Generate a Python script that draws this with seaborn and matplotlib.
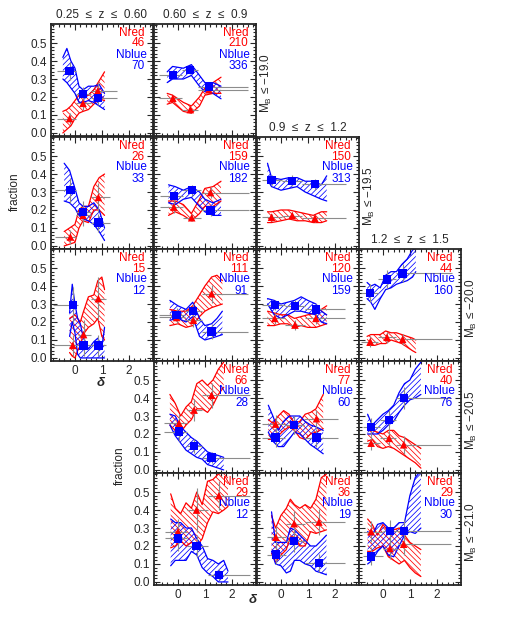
import matplotlib
matplotlib.use("Agg")
import matplotlib.pyplot as plt
from matplotlib.ticker import MultipleLocator, FixedLocator, FormatStrFormatter
import numpy as np
import seaborn as sns

sns.set_style("ticks")
plt.rcParams['font.family'] = ['Liberation Sans', 'DejaVu Sans']
plt.rcParams['hatch.linewidth'] = 0.55

# panel (row, col) in the staircase grid
grid_pos = [(0, 0), (0, 1), (1, 0), (1, 1), (1, 2), (2, 0), (2, 1), (2, 2), (2, 3),
            (3, 1), (3, 2), (3, 3), (4, 1), (4, 2), (4, 3)]

n_red = [46, 210, 26, 159, 150, 15, 111, 120, 44, 66, 77, 40, 29, 36, 29]
n_blue = [70, 336, 33, 182, 313, 12, 91, 159, 160, 28, 60, 76, 12, 19, 30]

z_titles = {(0, 0): "0.25  \u2264  z  \u2264  0.60", (0, 1): "0.60  \u2264  z  \u2264  0.9",
            (1, 2): "0.9  \u2264  z  \u2264  1.2", (2, 3): "1.2  \u2264  z  \u2264  1.5"}
mag_labels = {(0, 1): "\u221219.0", (1, 2): "\u221219.5", (2, 3): "\u221220.0",
              (3, 3): "\u221220.5", (4, 3): "\u221221.0"}
y_ticks = [0.0, 0.1, 0.2, 0.3, 0.4, 0.5]

# binned points (delta, fraction)
pt_x = [[-0.2, 0.3, 0.85], [-0.19, 0.46, 1.15], [-0.17, 0.3, 0.87], [-0.15, 0.51, 1.21],
        [-0.35, 0.42, 1.26], [-0.08, 0.32, 0.87], [-0.05, 0.57, 1.25], [-0.23, 0.52, 1.3],
        [-0.47, 0.15, 0.73], [0.04, 0.6, 1.25], [-0.2, 0.48, 1.32], [-0.44, 0.23, 0.77],
        [0.0, 0.69, 1.52], [-0.19, 0.49, 1.41], [-0.44, 0.26, 0.77]]
red_y = [[0.08, 0.165, 0.235], [0.193, 0.13, 0.24], [0.05, 0.17, 0.27], [0.216, 0.157, 0.297],
         [0.16, 0.169, 0.154], [0.07, 0.13, 0.33], [0.225, 0.21, 0.357], [0.22, 0.183, 0.22],
         [0.091, 0.115, 0.104], [0.26, 0.333, 0.415], [0.255, 0.25, 0.285], [0.149, 0.176, 0.14],
         [0.28, 0.4, 0.48], [0.249, 0.324, 0.333], [0.28, 0.186, 0.21]]
blue_y = [[0.345, 0.215, 0.195], [0.324, 0.35, 0.254], [0.31, 0.19, 0.13], [0.277, 0.31, 0.198],
          [0.367, 0.363, 0.343], [0.294, 0.07, 0.07], [0.238, 0.262, 0.147], [0.294, 0.29, 0.27],
          [0.363, 0.437, 0.47], [0.213, 0.133, 0.069], [0.18, 0.25, 0.18], [0.24, 0.276, 0.4],
          [0.242, 0.2, 0.04], [0.152, 0.226, 0.104], [0.142, 0.283, 0.283]]
red_err = [[0.03, 0.04, 0.05], [0.02, 0.02, 0.02], [0.04, 0.06, 0.08], [0.03, 0.02, 0.03],
           [0.02, 0.02, 0.02], [0.06, 0.08, 0.12], [0.03, 0.04, 0.05], [0.03, 0.03, 0.03],
           [0.03, 0.03, 0.03], [0.05, 0.06, 0.07], [0.05, 0.05, 0.05], [0.04, 0.04, 0.05],
           [0.07, 0.12, 0.08], [0.06, 0.07, 0.07], [0.06, 0.06, 0.06]]
blue_err = [[0.05, 0.04, 0.04], [0.02, 0.02, 0.02], [0.07, 0.06, 0.05], [0.03, 0.03, 0.03],
            [0.03, 0.03, 0.03], [0.10, 0.06, 0.06], [0.04, 0.04, 0.04], [0.03, 0.03, 0.03],
            [0.05, 0.05, 0.05], [0.05, 0.04, 0.03], [0.05, 0.05, 0.05], [0.05, 0.06, 0.06],
            [0.07, 0.06, 0.03], [0.05, 0.06, 0.05], [0.05, 0.06, 0.06]]
bin_edges = [[-0.67, 0.05, 0.6, 1.57], [-0.69, 0.15, 0.75, 2.6], [-0.75, 0.05, 0.6, 1.31],
             [-0.67, 0.2, 0.85, 2.63], [-0.71, 0.05, 0.8, 2.43], [-0.82, 0.1, 0.6, 1.17],
             [-0.69, 0.25, 0.9, 2.6], [-0.71, 0.15, 0.9, 2.37], [-0.81, -0.2, 0.5, 2.57],
             [-0.52, 0.35, 0.9, 2.67], [-0.69, 0.15, 0.85, 2.12], [-0.75, -0.1, 0.5, 2.52],
             [-0.48, 0.35, 1.1, 2.67], [-0.53, 0.2, 0.9, 2.37], [-0.75, 0.0, 0.55, 2.52]]

# running-fraction bands
band_x = [
    [-0.45, -0.3, -0.15, 0.0, 0.15, 0.3, 0.5, 0.7, 0.9, 1.1],
    [-0.4, -0.2, 0.2, 0.5, 0.8, 1.0, 1.3, 1.6],
    [-0.4, -0.2, 0.0, 0.15, 0.3, 0.5, 0.7, 0.9, 1.1],
    [-0.35, -0.1, 0.2, 0.5, 0.8, 1.0, 1.3, 1.6],
    [-0.5, -0.35, 0.0, 0.3, 0.6, 0.9, 1.2, 1.5, 1.7],
    [-0.2, -0.1, 0.0, 0.1, 0.2, 0.3, 0.5, 0.7, 0.85, 1.0, 1.1],
    [-0.3, 0.0, 0.3, 0.55, 0.8, 1.0, 1.25, 1.45, 1.65],
    [-0.5, -0.25, 0.0, 0.25, 0.5, 0.75, 1.0, 1.3, 1.5, 1.7],
    [-0.59, -0.45, -0.3, -0.1, 0.1, 0.3, 0.5, 0.7, 0.9, 1.1, 1.22],
    [-0.3, -0.1, 0.1, 0.3, 0.5, 0.7, 0.9, 1.1, 1.3, 1.5, 1.7],
    [-0.47, -0.3, -0.1, 0.1, 0.3, 0.5, 0.7, 0.9, 1.1, 1.3, 1.57],
    [-0.57, -0.4, -0.2, 0.0, 0.2, 0.4, 0.6, 0.8, 1.0, 1.2, 1.41],
    [-0.27, -0.1, 0.1, 0.3, 0.5, 0.7, 0.9, 1.1, 1.3, 1.5, 1.7, 1.86],
    [-0.35, -0.2, 0.0, 0.2, 0.35, 0.5, 0.7, 0.9, 1.1, 1.3, 1.5, 1.69],
    [-0.57, -0.4, -0.2, 0.0, 0.2, 0.4, 0.6, 0.8, 1.0, 1.2, 1.41],
]
red_lo = [
    [0.0, 0.02, 0.04, 0.08, 0.11, 0.12, 0.13, 0.16, 0.19, 0.18],
    [0.16, 0.17, 0.12, 0.11, 0.15, 0.21, 0.22, 0.22],
    [0.0, 0.01, 0.02, 0.10, 0.14, 0.13, 0.20, 0.20, 0.17],
    [0.17, 0.19, 0.17, 0.14, 0.18, 0.22, 0.22, 0.25],
    [0.13, 0.13, 0.14, 0.15, 0.14, 0.14, 0.13, 0.13, 0.14],
    [0.03, 0.01, 0.0, 0.04, 0.07, 0.13, 0.17, 0.19, 0.22, 0.12, 0.10],
    [0.18, 0.19, 0.17, 0.18, 0.23, 0.26, 0.28, 0.29, 0.30],
    [0.18, 0.18, 0.19, 0.19, 0.17, 0.18, 0.17, 0.17, 0.18, 0.19],
    [0.07, 0.07, 0.07, 0.08, 0.08, 0.10, 0.09, 0.08, 0.06, 0.04, 0.03],
    [0.25, 0.22, 0.21, 0.25, 0.28, 0.34, 0.34, 0.32, 0.36, 0.42, 0.46],
    [0.17, 0.17, 0.19, 0.22, 0.24, 0.22, 0.18, 0.17, 0.20, 0.21, 0.23],
    [0.16, 0.17, 0.13, 0.12, 0.13, 0.12, 0.10, 0.08, 0.06, 0.04, 0.01],
    [0.19, 0.20, 0.23, 0.20, 0.22, 0.20, 0.24, 0.33, 0.39, 0.38, 0.40, 0.42],
    [0.16, 0.11, 0.15, 0.18, 0.25, 0.25, 0.20, 0.20, 0.28, 0.27, 0.28, 0.29],
    [0.17, 0.17, 0.19, 0.20, 0.14, 0.12, 0.10, 0.12, 0.08, 0.05, 0.03],
]
red_hi = [
    [0.12, 0.13, 0.15, 0.18, 0.21, 0.21, 0.21, 0.24, 0.29, 0.34],
    [0.22, 0.21, 0.17, 0.15, 0.20, 0.25, 0.28, 0.31],
    [0.08, 0.10, 0.12, 0.20, 0.22, 0.22, 0.33, 0.38, 0.40],
    [0.25, 0.25, 0.23, 0.18, 0.26, 0.32, 0.33, 0.36],
    [0.19, 0.19, 0.20, 0.20, 0.19, 0.18, 0.17, 0.19, 0.19],
    [0.22, 0.23, 0.24, 0.22, 0.20, 0.25, 0.34, 0.35, 0.43, 0.45, 0.38],
    [0.27, 0.26, 0.26, 0.29, 0.35, 0.40, 0.45, 0.46, 0.43],
    [0.26, 0.25, 0.24, 0.24, 0.22, 0.23, 0.24, 0.25, 0.27, 0.29],
    [0.12, 0.13, 0.13, 0.13, 0.15, 0.14, 0.14, 0.13, 0.12, 0.11, 0.10],
    [0.42, 0.37, 0.30, 0.35, 0.38, 0.48, 0.50, 0.47, 0.50, 0.56, 0.60],
    [0.28, 0.26, 0.30, 0.33, 0.31, 0.26, 0.27, 0.31, 0.32, 0.34, 0.42],
    [0.22, 0.22, 0.21, 0.20, 0.22, 0.22, 0.19, 0.18, 0.16, 0.14, 0.12],
    [0.49, 0.41, 0.38, 0.44, 0.41, 0.50, 0.43, 0.56, 0.57, 0.60, 0.61, 0.61],
    [0.37, 0.30, 0.37, 0.41, 0.46, 0.43, 0.41, 0.43, 0.41, 0.46, 0.58, 0.60],
    [0.35, 0.32, 0.26, 0.32, 0.28, 0.29, 0.30, 0.26, 0.22, 0.20, 0.18],
]
blue_lo = [
    [0.30, 0.28, 0.25, 0.22, 0.17, 0.17, 0.18, 0.17, 0.15, 0.13],
    [0.28, 0.30, 0.30, 0.32, 0.26, 0.23, 0.22, 0.19],
    [0.25, 0.24, 0.21, 0.17, 0.15, 0.14, 0.12, 0.08, 0.03],
    [0.24, 0.23, 0.26, 0.27, 0.22, 0.19, 0.17, 0.17],
    [0.37, 0.33, 0.31, 0.32, 0.33, 0.30, 0.28, 0.26, 0.25],
    [0.12, 0.20, 0.14, 0.02, 0.0, 0.0, 0.0, 0.0, 0.0, 0.0, 0.0],
    [0.21, 0.22, 0.20, 0.23, 0.12, 0.10, 0.11, 0.12, 0.13],
    [0.30, 0.24, 0.22, 0.24, 0.26, 0.26, 0.25, 0.24, 0.20, 0.19],
    [0.33, 0.31, 0.27, 0.33, 0.38, 0.39, 0.41, 0.42, 0.43, 0.45, 0.48],
    [0.25, 0.19, 0.15, 0.11, 0.09, 0.07, 0.06, 0.03, 0.02, 0.01, 0.0],
    [0.21, 0.16, 0.13, 0.13, 0.17, 0.21, 0.20, 0.17, 0.14, 0.12, 0.09],
    [0.20, 0.20, 0.20, 0.22, 0.25, 0.27, 0.32, 0.36, 0.39, 0.40, 0.42],
    [0.09, 0.12, 0.12, 0.12, 0.17, 0.15, 0.08, 0.05, 0.03, 0.0, 0.0, 0.0],
    [0.17, 0.10, 0.09, 0.05, 0.06, 0.12, 0.12, 0.10, 0.09, 0.06, 0.05, 0.04],
    [0.10, 0.12, 0.17, 0.20, 0.15, 0.14, 0.20, 0.26, 0.28, 0.27, 0.30],
]
blue_hi = [
    [0.42, 0.47, 0.40, 0.36, 0.26, 0.24, 0.26, 0.26, 0.27, 0.22],
    [0.34, 0.37, 0.36, 0.38, 0.32, 0.28, 0.28, 0.26],
    [0.46, 0.42, 0.32, 0.24, 0.22, 0.22, 0.24, 0.20, 0.10],
    [0.34, 0.33, 0.31, 0.33, 0.30, 0.26, 0.24, 0.26],
    [0.46, 0.38, 0.37, 0.38, 0.38, 0.36, 0.36, 0.34, 0.39],
    [0.25, 0.41, 0.30, 0.22, 0.19, 0.12, 0.05, 0.09, 0.11, 0.06, 0.17],
    [0.32, 0.29, 0.27, 0.31, 0.22, 0.18, 0.19, 0.22, 0.26],
    [0.33, 0.32, 0.30, 0.31, 0.32, 0.34, 0.32, 0.30, 0.26, 0.24],
    [0.42, 0.40, 0.41, 0.39, 0.46, 0.48, 0.48, 0.52, 0.55, 0.60, 0.61],
    [0.31, 0.30, 0.24, 0.21, 0.18, 0.16, 0.13, 0.10, 0.09, 0.08, 0.07],
    [0.36, 0.30, 0.22, 0.27, 0.30, 0.30, 0.30, 0.27, 0.25, 0.24, 0.22],
    [0.31, 0.25, 0.28, 0.31, 0.33, 0.36, 0.43, 0.48, 0.50, 0.56, 0.60],
    [0.35, 0.33, 0.33, 0.30, 0.30, 0.24, 0.20, 0.13, 0.12, 0.10, 0.12, 0.06],
    [0.39, 0.22, 0.22, 0.22, 0.30, 0.29, 0.26, 0.23, 0.20, 0.20, 0.23, 0.26],
    [0.28, 0.26, 0.32, 0.33, 0.30, 0.30, 0.33, 0.33, 0.48, 0.58, 0.62],
]

W, H = 513, 623
col_left = [51, 154, 257, 359]
row_top = [24, 137, 249, 361, 473]
pw, ph = 102, 112

fig = plt.figure(figsize=(W / 100, H / 100), dpi=100)
fs = 8.5

for i, (r, c) in enumerate(grid_pos):
    ax = fig.add_axes([col_left[c] / W, 1 - (row_top[r] + ph) / H, pw / W, ph / H])
    bx = band_x[i]
    for lo, hi, col, hatch in [(red_lo[i], red_hi[i], 'red', '\\' * 6),
                               (blue_lo[i], blue_hi[i], 'blue', '/' * 6)]:
        ax.fill_between(bx, lo, hi, facecolor='none', edgecolor=col, linewidth=0,
                        hatch=hatch, zorder=1)
        sns.lineplot(x=bx, y=lo, color=col, lw=0.9, ax=ax, zorder=2)
        sns.lineplot(x=bx, y=hi, color=col, lw=0.9, ax=ax, zorder=2)

    px = np.array(pt_x[i])
    e = bin_edges[i]
    xl = px - np.array(e[:-1])
    xr = np.array(e[1:]) - px
    for yv, err in [(red_y[i], red_err[i]), (blue_y[i], blue_err[i])]:
        ax.errorbar(px, yv, xerr=[xl, xr], yerr=err, fmt='none', ecolor='0.55',
                    elinewidth=0.8, capsize=0, zorder=3)
    sns.scatterplot(x=px, y=red_y[i], marker='^', color='red', s=30, edgecolor='none',
                    ax=ax, zorder=4)
    sns.scatterplot(x=px, y=blue_y[i], marker='s', color='blue', s=36, edgecolor='none',
                    ax=ax, zorder=4)

    ax.set_xlim(-0.89, 2.9)
    ax.set_ylim(-0.017, 0.606)
    ax.xaxis.set_major_locator(MultipleLocator(1))
    ax.xaxis.set_minor_locator(MultipleLocator(0.2))
    ax.yaxis.set_major_locator(FixedLocator(y_ticks))
    ax.yaxis.set_minor_locator(MultipleLocator(0.02))
    ax.yaxis.set_major_formatter(FormatStrFormatter('%.1f'))
    ax.tick_params(which='both', direction='in', top=True, right=True, labelsize=fs,
                   width=0.8, pad=3)
    ax.tick_params(which='major', length=4)
    ax.tick_params(which='minor', length=2)
    for sp in ax.spines.values():
        sp.set_linewidth(1.3)
    ax.set_xlabel('')
    ax.set_ylabel('')

    show_y = c == 0 or (c == 1 and r >= 3)
    show_x = (r == 2 and c == 0) or r == 4
    ax.tick_params(labelleft=show_y, labelbottom=show_x)

    ax.text(1 - 8 / pw, 1 - 9 / ph, "Nred", color='red', ha='right', va='center',
            fontsize=fs, transform=ax.transAxes)
    ax.text(1 - 8 / pw, 1 - 19.5 / ph, str(n_red[i]), color='red', ha='right', va='center',
            fontsize=fs, transform=ax.transAxes)
    ax.text(1 - 6 / pw, 1 - 30.5 / ph, "Nblue", color='blue', ha='right', va='center',
            fontsize=fs, transform=ax.transAxes)
    ax.text(1 - 8 / pw, 1 - 42 / ph, str(n_blue[i]), color='blue', ha='right', va='center',
            fontsize=fs, transform=ax.transAxes)

    if (r, c) in z_titles:
        ax.text(0.5, 1 + 9 / ph, z_titles[(r, c)], ha='center', va='center', fontsize=fs,
                transform=ax.transAxes)
    if (r, c) in mag_labels:
        ax.text(1 + 10 / pw, 0.47, "M$_\\mathregular{B}$ \u2264 " + mag_labels[(r, c)],
                rotation=90, ha='center', va='center', fontsize=fs, transform=ax.transAxes)

fig.text(15 / W, 1 - 192 / H, "fraction", rotation=90, ha='center', va='center', fontsize=fs)
fig.text(120 / W, 1 - 466 / H, "fraction", rotation=90, ha='center', va='center', fontsize=fs)
fig.text(101 / W, 1 - 383 / H, "\u03b4", ha='center', va='center', fontsize=fs + 1,
         fontweight='bold', fontstyle='italic')
fig.text(253 / W, 1 - 600 / H, "\u03b4", ha='center', va='center', fontsize=fs + 1,
         fontweight='bold', fontstyle='italic')

fig.savefig("out.png", dpi=100)
